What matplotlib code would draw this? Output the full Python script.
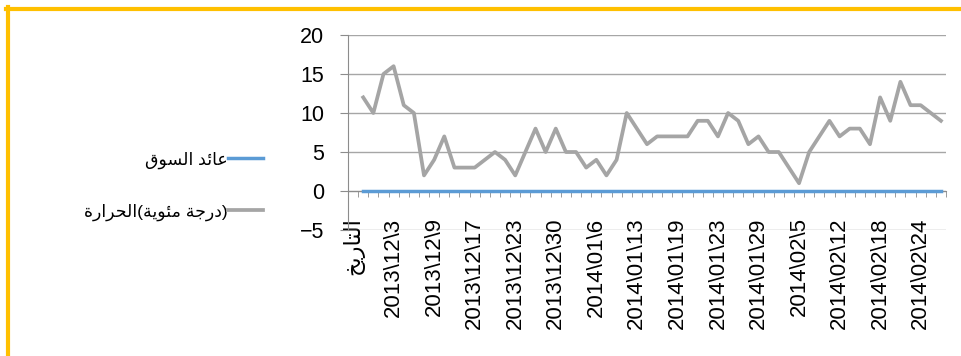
import matplotlib.pyplot as plt
from matplotlib.lines import Line2D

# درجة الحرارة اليومية (درجة مئوية) - القيم مقروءة من الرسم
temps = [12, 10, 15, 16, 11, 10, 2, 4, 7, 3, 3, 3, 4, 5, 4, 2, 5, 8, 5, 8,
         5, 5, 3, 4, 2, 4, 10, 8, 6, 7, 7, 7, 7, 9, 9, 7, 10, 9, 6, 7,
         5, 5, 3, 1, 5, 7, 9, 7, 8, 8, 6, 12, 9, 14, 11, 11, 10, 9]
# عائد السوق قريب جدا من الصفر
market = [0] * len(temps)

header = "التاريخ"
date_labels = ["2013\\12\\3", "2013\\12\\9", "2013\\12\\17", "2013\\12\\23",
               "2013\\12\\30", "2014\\01\\6", "2014\\01\\13", "2014\\01\\19",
               "2014\\01\\23", "2014\\01\\29", "2014\\02\\5", "2014\\02\\12",
               "2014\\02\\18", "2014\\02\\24"]
series_names = ["عائد السوق", "(درجة مئوية)الحرارة"]

# matplotlib لا يشكل الحروف العربية، فنحولها لأشكال العرض يدويا
FORMS = {
    'ا': ('\uFE8D', '\uFE8E', None, None),
    'ل': ('\uFEDD', '\uFEDE', '\uFEDF', '\uFEE0'),
    'ت': ('\uFE95', '\uFE96', '\uFE97', '\uFE98'),
    'ر': ('\uFEAD', '\uFEAE', None, None),
    'ي': ('\uFEF1', '\uFEF2', '\uFEF3', '\uFEF4'),
    'خ': ('\uFEA5', '\uFEA6', '\uFEA7', '\uFEA8'),
    'ع': ('\uFEC9', '\uFECA', '\uFECB', '\uFECC'),
    'ئ': ('\uFE89', '\uFE8A', '\uFE8B', '\uFE8C'),
    'د': ('\uFEA9', '\uFEAA', None, None),
    'س': ('\uFEB1', '\uFEB2', '\uFEB3', '\uFEB4'),
    'و': ('\uFEED', '\uFEEE', None, None),
    'ق': ('\uFED5', '\uFED6', '\uFED7', '\uFED8'),
    'ح': ('\uFEA1', '\uFEA2', '\uFEA3', '\uFEA4'),
    'ة': ('\uFE93', '\uFE94', None, None),
    'ج': ('\uFE9D', '\uFE9E', '\uFE9F', '\uFEA0'),
    'م': ('\uFEE1', '\uFEE2', '\uFEE3', '\uFEE4'),
}
MIRROR = {'(': ')', ')': '('}


def rtl(text):
    out = []
    for i, ch in enumerate(text):
        if ch not in FORMS:
            out.append(MIRROR.get(ch, ch))
            continue
        prev = text[i - 1] if i > 0 else ''
        nxt = text[i + 1] if i + 1 < len(text) else ''
        join_prev = prev in FORMS and FORMS[prev][2] is not None
        join_next = nxt in FORMS and FORMS[ch][2] is not None
        iso, fin, ini, med = FORMS[ch]
        if join_prev and join_next:
            out.append(med)
        elif join_prev:
            out.append(fin)
        elif join_next:
            out.append(ini)
        else:
            out.append(iso)
    return ''.join(reversed(out))


plt.rcParams['font.family'] = ['Liberation Sans', 'DejaVu Sans']
plt.rcParams['font.size'] = 15.5

fig = plt.figure(figsize=(9.61, 3.56), dpi=100)
ax = fig.add_axes([348 / 961, 1 - 230 / 356, 598 / 961, 195 / 356])

x = list(range(1, len(temps) + 1))
l1, = ax.plot(x, market, color='#5B9BD5', lw=2.5, zorder=4)
l2, = ax.plot(x, temps, color='#A5A5A5', lw=2.7, zorder=3)

ax.set_xlim(-0.5, len(temps) + 0.5)
ax.set_ylim(-5, 20)
ax.set_yticks(range(-5, 21, 5))
ax.grid(axis='y', color='#A6A6A6', lw=1)
ax.set_axisbelow(True)

for s in ['top', 'right']:
    ax.spines[s].set_visible(False)
ax.spines['left'].set_color('#8C8C8C')
ax.spines['bottom'].set_position(('data', 0))
ax.spines['bottom'].set_color('#8C8C8C')
ax.tick_params(axis='y', length=6, color='#8C8C8C', pad=11, labelsize=15.5)

ax.set_xticks(range(0, len(temps) + 1, 4))
ax.set_xticklabels([rtl(header)] + date_labels, rotation=90, va='top',
                   fontsize=16)
ax.set_xticks([k + 0.5 for k in range(-1, len(temps) + 1)], minor=True)
ax.tick_params(axis='x', which='major', length=0, pad=19)
ax.tick_params(axis='x', which='minor', length=4.5, color='#8C8C8C')

fig.legend([l1, l2], [rtl(n) for n in series_names], markerfirst=False,
           loc='center right', bbox_to_anchor=(263 / 961, 1 - 186 / 356),
           frameon=False, handlelength=2.0, labelspacing=2.0,
           handletextpad=0.05, borderpad=0, borderaxespad=0, fontsize=12.5)

# الإطار الذهبي
fig.add_artist(Line2D([6 / 961, 1], [1 - 8.5 / 356, 1 - 8.5 / 356],
                      transform=fig.transFigure, color='#FFC000', lw=3))
fig.add_artist(Line2D([8 / 961, 8 / 961], [0, 1 - 7 / 356],
                      transform=fig.transFigure, color='#FFC000', lw=3))

fig.savefig('out.png', dpi=100)
